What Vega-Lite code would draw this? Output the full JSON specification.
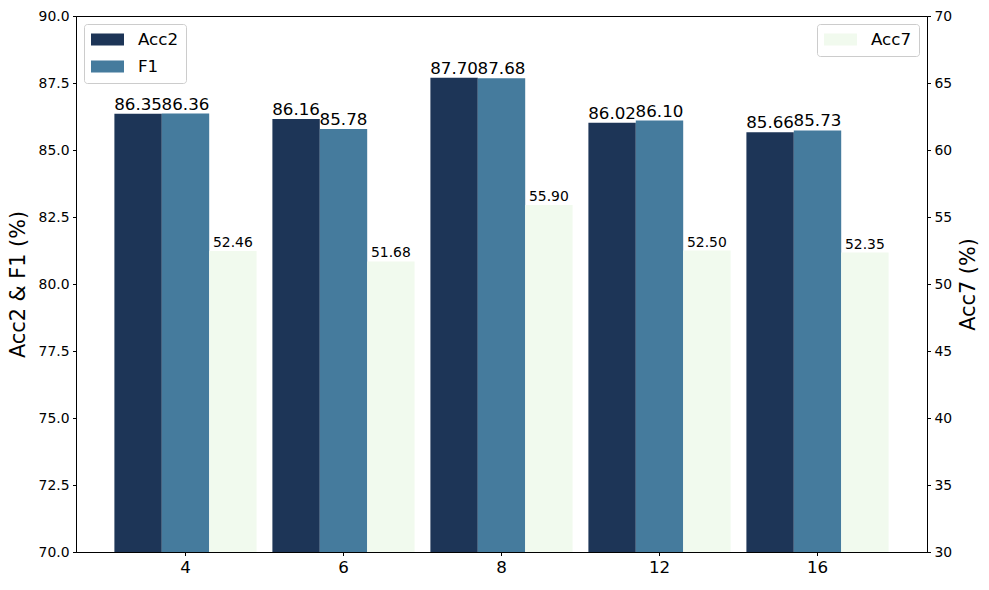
{
  "$schema": "https://vega.github.io/schema/vega-lite/v6.json",
  "width": 851,
  "height": 536,
  "autosize": {"type": "none"},
  "padding": {"left": 76, "top": 16, "right": 62, "bottom": 38},
  "config": {
    "font": "DejaVu Sans",
    "view": {"stroke": "#000000", "strokeWidth": 1},
    "axis": {
      "domainColor": "#000000", "tickColor": "#000000", "labelColor": "#000000", "titleColor": "#000000",
      "grid": false, "tickSize": 3.5, "labelPadding": 3.5, "domainWidth": 1, "tickWidth": 1,
      "labelFont": "DejaVu Sans", "titleFont": "DejaVu Sans", "titleFontWeight": "normal",
      "labelFontSize": 13.9, "titleFontSize": 20.8
    },
    "legend": {
      "title": null,
      "padding": 7,
      "fillColor": "rgba(255,255,255,0.8)",
      "strokeColor": "#cccccc",
      "cornerRadius": 3,
      "offset": 8,
      "labelFont": "DejaVu Sans",
      "labelFontSize": 16.7,
      "labelColor": "#000000",
      "labelOffset": 30,
      "symbolType": "M-1,-0.706H2.882V0.706H-1Z",
      "symbolSize": 289,
      "symbolStrokeWidth": 0,
      "symbolOpacity": 1,
      "rowPadding": 9
    }
  },
  "datasets": {
    "scores": [
      {"k": "4", "metric": "Acc2", "value": 86.35},
      {"k": "4", "metric": "F1", "value": 86.36},
      {"k": "4", "metric": "Acc7", "value": 52.46},
      {"k": "6", "metric": "Acc2", "value": 86.16},
      {"k": "6", "metric": "F1", "value": 85.78},
      {"k": "6", "metric": "Acc7", "value": 51.68},
      {"k": "8", "metric": "Acc2", "value": 87.70},
      {"k": "8", "metric": "F1", "value": 87.68},
      {"k": "8", "metric": "Acc7", "value": 55.90},
      {"k": "12", "metric": "Acc2", "value": 86.02},
      {"k": "12", "metric": "F1", "value": 86.10},
      {"k": "12", "metric": "Acc7", "value": 52.50},
      {"k": "16", "metric": "Acc2", "value": 85.66},
      {"k": "16", "metric": "F1", "value": 85.73},
      {"k": "16", "metric": "Acc7", "value": 52.35}
    ]
  },
  "data": {"name": "scores"},
  "encoding": {
    "x": {
      "field": "k", "type": "nominal", "sort": ["4", "6", "8", "12", "16"],
      "scale": {"paddingInner": 0.1, "paddingOuter": 0.243},
      "axis": {"title": null, "labelAngle": 0, "labelFontSize": 16.7}
    },
    "xOffset": {
      "field": "metric", "type": "nominal",
      "scale": {"domain": ["Acc2", "F1", "Acc7"], "paddingInner": 0, "paddingOuter": 0}
    }
  },
  "layer": [
    {
      "transform": [{"filter": "datum.metric != 'Acc7'"}],
      "encoding": {
        "y": {
          "field": "value", "type": "quantitative",
          "scale": {"domain": [70, 90], "zero": false, "nice": false},
          "axis": {"orient": "left", "title": "Acc2 & F1 (%)", "values": [70, 72.5, 75, 77.5, 80, 82.5, 85, 87.5, 90], "format": ".1f", "titlePadding": 10}
        }
      },
      "layer": [
        {
          "mark": {"type": "bar", "clip": true},
          "encoding": {
            "color": {
              "field": "metric", "type": "nominal",
              "scale": {"domain": ["Acc2", "F1"], "range": ["#1d3557", "#457b9d"]},
              "legend": {"orient": "top-left"}
            }
          }
        },
        {
          "mark": {"type": "text", "baseline": "alphabetic", "dy": -4, "fontSize": 16.7, "color": "#000000"},
          "encoding": {"text": {"field": "value", "type": "quantitative", "format": ".2f"}}
        }
      ]
    },
    {
      "transform": [{"filter": "datum.metric == 'Acc7'"}],
      "encoding": {
        "y": {
          "field": "value", "type": "quantitative",
          "scale": {"domain": [30, 70], "zero": false, "nice": false},
          "axis": {"orient": "right", "title": "Acc7 (%)", "titleAngle": 270, "values": [30, 35, 40, 45, 50, 55, 60, 65, 70], "format": "d", "titlePadding": 27}
        }
      },
      "layer": [
        {
          "mark": {"type": "bar", "clip": true},
          "encoding": {
            "color": {
              "field": "metric", "type": "nominal",
              "scale": {"domain": ["Acc7"], "range": ["#f1faee"]},
              "legend": {"orient": "top-right"}
            }
          }
        },
        {
          "mark": {"type": "text", "baseline": "alphabetic", "dy": -4, "fontSize": 13.9, "color": "#000000"},
          "encoding": {"text": {"field": "value", "type": "quantitative", "format": ".2f"}}
        }
      ]
    }
  ],
  "resolve": {"scale": {"y": "independent", "color": "independent"}}
}
